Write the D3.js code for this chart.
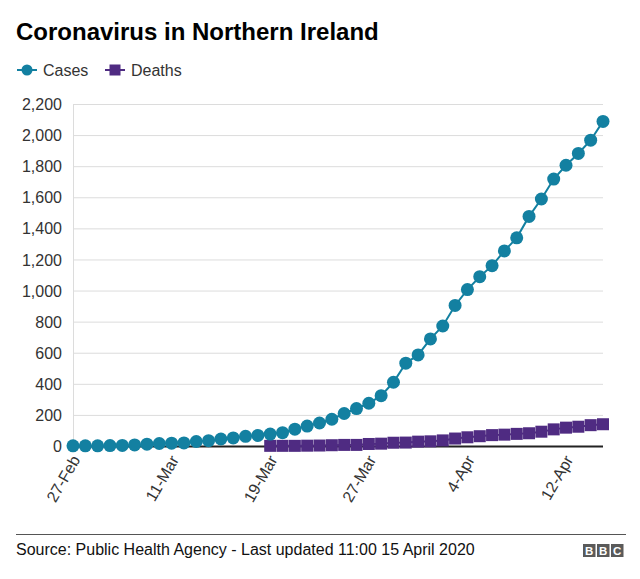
<!DOCTYPE html>
<html>
<head>
<meta charset="utf-8">
<script src="https://cdn.jsdelivr.net/npm/d3@7"></script>
<style>
  html, body { margin: 0; padding: 0; background: #fff; }
  svg { display: block; font-family: "Liberation Sans", Arial, Helvetica, sans-serif; }
</style>
</head>
<body>
<svg id="chart" width="640" height="579"></svg>
<script>
// ---- Data ----
const dates = ["27-Feb","3-Mar","5-Mar","6-Mar","7-Mar","8-Mar","9-Mar","10-Mar","11-Mar",
  "12-Mar","13-Mar","14-Mar","15-Mar","16-Mar","17-Mar","18-Mar","19-Mar","20-Mar","21-Mar",
  "22-Mar","23-Mar","24-Mar","25-Mar","26-Mar","27-Mar","28-Mar","29-Mar","30-Mar","31-Mar",
  "1-Apr","2-Apr","3-Apr","4-Apr","5-Apr","6-Apr","7-Apr","8-Apr","9-Apr","10-Apr","11-Apr",
  "12-Apr","13-Apr","14-Apr","15-Apr"];
const cases = [1,1,1,3,4,7,12,16,18,
  20,29,34,45,52,62,68,77,86,108,
  128,148,172,209,241,275,324,410,533,586,
  689,772,904,1006,1089,1160,1255,1339,1477,1589,1717,
  1806,1882,1967,2088];
const deaths = [null,null,null,null,null,null,null,null,null,
  null,null,null,null,null,null,null,1,1,1,
  2,3,5,7,7,13,15,21,22,28,
  30,36,48,56,63,70,73,78,82,92,107,
  118,124,134,140];
const yTicks = [0,200,400,600,800,1000,1200,1400,1600,1800,2000,2200];
const xTickLabels = ["27-Feb","11-Mar","19-Mar","27-Mar","4-Apr","12-Apr"];

const casesColor = "#1380a1";
const deathsColor = "#4f2b82";

const svg = d3.select("#chart");

// Title
svg.append("text").attr("x", 16).attr("y", 40)
  .attr("font-size", 24).attr("font-weight", "bold").attr("fill", "#000")
  .text("Coronavirus in Northern Ireland");

// Legend
const leg = svg.append("g");
leg.append("line").attr("x1", 17).attr("x2", 37).attr("y1", 70).attr("y2", 70)
  .attr("stroke", casesColor).attr("stroke-width", 2);
leg.append("circle").attr("cx", 27).attr("cy", 70).attr("r", 5.5).attr("fill", casesColor);
leg.append("text").attr("x", 43).attr("y", 76).attr("font-size", 16).attr("fill", "#333").text("Cases");
leg.append("line").attr("x1", 105).attr("x2", 125).attr("y1", 70).attr("y2", 70)
  .attr("stroke", deathsColor).attr("stroke-width", 2);
leg.append("rect").attr("x", 109.5).attr("y", 64.5).attr("width", 11).attr("height", 11).attr("fill", deathsColor);
leg.append("text").attr("x", 131).attr("y", 76).attr("font-size", 16).attr("fill", "#333").text("Deaths");

// Scales
const x = d3.scalePoint().domain(dates).range([73, 603]);
const y = d3.scaleLinear().domain([0, 2200]).range([446, 104]);

// Grid lines
const grid = svg.append("g");
grid.selectAll("line").data(yTicks.filter(d => d > 0)).join("line")
  .attr("x1", 73).attr("x2", 603)
  .attr("y1", d => y(d) + 0.5).attr("y2", d => y(d) + 0.5)
  .attr("stroke", "#dcdcdc").attr("stroke-width", 1);
svg.append("line").attr("x1", 73.5).attr("x2", 73.5).attr("y1", 104).attr("y2", 446)
  .attr("stroke", "#dcdcdc").attr("stroke-width", 1);

// Y axis labels
const yAxis = d3.axisLeft(y).tickValues(yTicks).tickSize(0).tickPadding(0)
  .tickFormat(d3.format(","));
const yg = svg.append("g").attr("transform", "translate(62,0)").call(yAxis);
yg.select(".domain").remove();
yg.selectAll("text").attr("font-size", 16).attr("fill", "#333")
  .attr("font-family", "'Liberation Sans', Arial, sans-serif").attr("dy", "0.35em");

// Zero baseline
svg.append("line").attr("x1", 73).attr("x2", 603).attr("y1", 446.5).attr("y2", 446.5)
  .attr("stroke", "#222").attr("stroke-width", 2);

// X axis labels
const xAxis = d3.axisBottom(x).tickValues(xTickLabels).tickSize(0).tickPadding(0);
const xg = svg.append("g").attr("transform", "translate(4,454)").call(xAxis);
xg.select(".domain").remove();
xg.selectAll("text")
  .attr("font-size", 16).attr("fill", "#333")
  .attr("font-family", "'Liberation Sans', Arial, sans-serif")
  .attr("text-anchor", "end")
  .attr("dy", "0.35em").attr("dx", "-0.2em")
  .attr("transform", "rotate(-60)");

// Deaths line & markers
const deathsData = dates.map((d, i) => ({d, v: deaths[i]})).filter(p => p.v !== null);
svg.append("path").datum(deathsData)
  .attr("fill", "none").attr("stroke", deathsColor).attr("stroke-width", 2)
  .attr("d", d3.line().x(p => x(p.d)).y(p => y(p.v)));
svg.append("g").selectAll("rect").data(deathsData).join("rect")
  .attr("x", p => x(p.d) - 6).attr("y", p => y(p.v) - 6)
  .attr("width", 12).attr("height", 12).attr("fill", deathsColor);

// Cases line & markers
const casesData = dates.map((d, i) => ({d, v: cases[i]}));
svg.append("path").datum(casesData)
  .attr("fill", "none").attr("stroke", casesColor).attr("stroke-width", 2)
  .attr("d", d3.line().x(p => x(p.d)).y(p => y(p.v)));
svg.append("g").selectAll("circle").data(casesData).join("circle")
  .attr("cx", p => x(p.d)).attr("cy", p => y(p.v)).attr("r", 6.5)
  .attr("fill", casesColor);

// Footer
svg.append("line").attr("x1", 16).attr("x2", 626).attr("y1", 534.5).attr("y2", 534.5)
  .attr("stroke", "#555").attr("stroke-width", 1);
svg.append("text").attr("x", 16).attr("y", 555).attr("font-size", 16).attr("fill", "#111")
  .text("Source: Public Health Agency - Last updated 11:00 15 April 2020");

const bbc = svg.append("g").attr("transform", "translate(583,544)");
["B","B","C"].forEach((ch, i) => {
  bbc.append("rect").attr("x", i * 14).attr("y", 0).attr("width", 12.5).attr("height", 13)
    .attr("fill", "#5a5a5a");
  bbc.append("text").attr("x", i * 14 + 6.25).attr("y", 11).attr("text-anchor", "middle")
    .attr("font-size", 11.5).attr("font-weight", "bold").attr("fill", "#fff").text(ch);
});
</script>
</body>
</html>
